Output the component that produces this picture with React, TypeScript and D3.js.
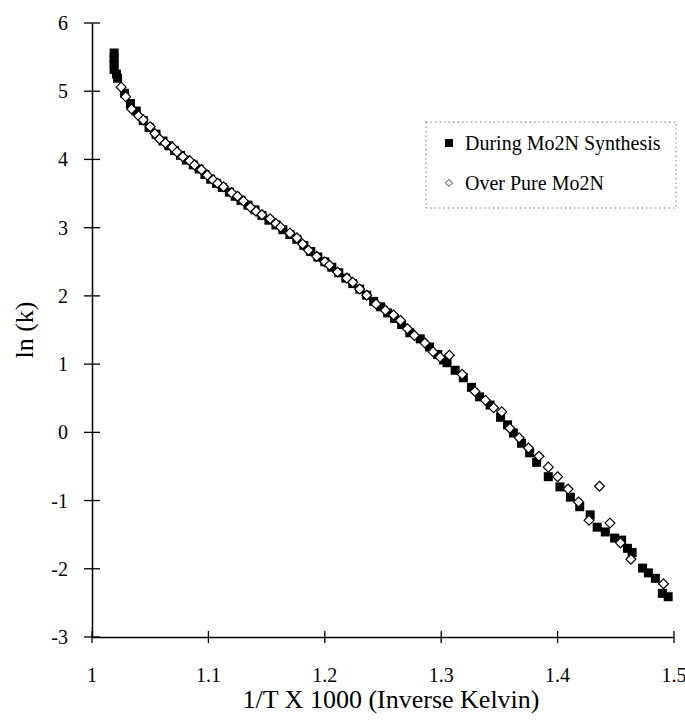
import React, { useEffect, useRef } from "react";
import * as d3 from "d3";

// During Mo2N synthesis (filled squares)
const synthX = [
  1.019, 1.019, 1.019, 1.019, 1.021, 1.022,
  1.028, 1.033, 1.038, 1.044, 1.049, 1.055, 1.061, 1.066, 1.071, 1.076, 1.081, 1.087, 1.092, 1.097,
  1.102, 1.107, 1.112, 1.118, 1.123, 1.128, 1.134, 1.14, 1.146, 1.152, 1.158, 1.164, 1.17, 1.176,
  1.182, 1.188, 1.194, 1.2, 1.206, 1.212, 1.218, 1.224, 1.23, 1.236, 1.242, 1.248, 1.254, 1.26, 1.266,
  1.273, 1.282, 1.29, 1.297, 1.302, 1.305, 1.312, 1.319, 1.326, 1.333, 1.342, 1.351, 1.357,
  1.362, 1.369, 1.376, 1.382, 1.392, 1.402, 1.411, 1.419, 1.428, 1.434, 1.441, 1.449, 1.455, 1.46,
  1.464, 1.473, 1.478, 1.484, 1.49, 1.495,
];
const synthY = [
  5.56, 5.48, 5.4, 5.32, 5.25, 5.19,
  4.97, 4.82, 4.71, 4.57, 4.47, 4.37, 4.27, 4.2, 4.13, 4.06, 3.99, 3.92, 3.86, 3.78,
  3.71, 3.65, 3.59, 3.52, 3.46, 3.4, 3.33, 3.26, 3.18, 3.11, 3.04, 2.97, 2.9, 2.83,
  2.74, 2.65, 2.57, 2.5, 2.42, 2.34, 2.26, 2.18, 2.1, 2.01, 1.92, 1.84, 1.75, 1.67, 1.58,
  1.46, 1.37, 1.25, 1.14, 1.06, 1.02, 0.91, 0.8, 0.66, 0.52, 0.4, 0.22, 0.11,
  -0.01, -0.16, -0.3, -0.44, -0.65, -0.8, -0.95, -1.09, -1.21, -1.39, -1.46, -1.55, -1.58, -1.7,
  -1.76, -1.99, -2.06, -2.14, -2.36, -2.41,
];

// Over pure Mo2N (open diamonds)
const pureX = [
  1.025, 1.029, 1.034, 1.04, 1.044, 1.05, 1.054, 1.058, 1.063, 1.069, 1.073, 1.078, 1.084, 1.088,
  1.094, 1.099, 1.104, 1.108, 1.113, 1.12, 1.125, 1.13, 1.136, 1.141, 1.146, 1.153, 1.158, 1.162,
  1.17, 1.176, 1.181, 1.186, 1.193, 1.2, 1.204, 1.211, 1.219, 1.224, 1.23, 1.236, 1.244, 1.252,
  1.259, 1.265, 1.271, 1.277, 1.286, 1.293, 1.299, 1.307, 1.318, 1.329, 1.338, 1.345, 1.352,
  1.359, 1.367, 1.375, 1.384, 1.392, 1.4, 1.409, 1.418, 1.427, 1.436, 1.445, 1.454, 1.463, 1.491,
];
const pureY = [
  5.06, 4.92, 4.74, 4.64, 4.58, 4.48, 4.38, 4.3, 4.24, 4.18, 4.11, 4.04, 3.98, 3.92,
  3.85, 3.77, 3.7, 3.65, 3.6, 3.51, 3.46, 3.39, 3.3, 3.24, 3.19, 3.13, 3.06, 3.01,
  2.92, 2.85, 2.76, 2.67, 2.58, 2.5, 2.45, 2.35, 2.26, 2.2, 2.1, 2.01, 1.88, 1.79,
  1.72, 1.64, 1.52, 1.42, 1.31, 1.18, 1.1, 1.13, 0.85, 0.6, 0.47, 0.36, 0.3,
  0.06, -0.08, -0.23, -0.35, -0.51, -0.65, -0.83, -1.02, -1.29, -0.79, -1.33, -1.62, -1.86, -2.22,
];

const xTicks = [1, 1.1, 1.2, 1.3, 1.4, 1.5];
const yTicks = [-3, -2, -1, 0, 1, 2, 3, 4, 5, 6];
const seriesNames = ["During Mo2N Synthesis", "Over Pure Mo2N"];

const FONT = "'Liberation Serif', 'Times New Roman', serif";

export default function App() {
  const svgRef = useRef<SVGSVGElement>(null);

  useEffect(() => {
    const width = 685;
    const height = 720;
    const svg = d3.select(svgRef.current);
    svg.selectAll("*").remove();

    const x = d3.scaleLinear().domain([1, 1.5]).range([92, 674]);
    const y = d3.scaleLinear().domain([-3, 6]).range([637, 23]);

    svg.attr("width", width).attr("height", height);

    // axes
    const xAxis = svg.append("g")
      .attr("transform", `translate(0,${y(-3)})`)
      .call(d3.axisBottom(x).tickValues(xTicks).tickSize(0).tickFormat(() => ""));
    xAxis.select(".domain").attr("stroke", "#000").attr("stroke-width", 1.5);

    const yAxis = svg.append("g")
      .attr("transform", `translate(${x(1)},0)`)
      .call(d3.axisLeft(y).tickValues(yTicks).tickSize(0).tickFormat(() => ""));
    yAxis.select(".domain").attr("stroke", "#000").attr("stroke-width", 1.5);

    // crossing tick marks
    svg.append("g").selectAll("line")
      .data(xTicks)
      .join("line")
      .attr("x1", (d) => x(d)).attr("x2", (d) => x(d))
      .attr("y1", y(-3) - 6).attr("y2", y(-3) + 6)
      .attr("stroke", "#000").attr("stroke-width", 1.3);
    svg.append("g").selectAll("line")
      .data(yTicks)
      .join("line")
      .attr("x1", x(1) - 8).attr("x2", x(1) + 8)
      .attr("y1", (d) => y(d)).attr("y2", (d) => y(d))
      .attr("stroke", "#000").attr("stroke-width", 1.3);

    // tick labels
    svg.append("g").selectAll("text")
      .data(xTicks)
      .join("text")
      .attr("x", (d) => x(d)).attr("y", 682)
      .attr("text-anchor", "middle")
      .attr("font-family", FONT).attr("font-size", 20)
      .text((d) => d3.format("")(d));
    svg.append("g").selectAll("text")
      .data(yTicks)
      .join("text")
      .attr("x", 68).attr("y", (d) => y(d) + 7)
      .attr("text-anchor", "end")
      .attr("font-family", FONT).attr("font-size", 20)
      .text((d) => d);

    // axis titles
    svg.append("text")
      .attr("x", 391).attr("y", 708)
      .attr("text-anchor", "middle")
      .attr("font-family", FONT).attr("font-size", 26)
      .text("1/T X 1000 (Inverse Kelvin)");
    svg.append("text")
      .attr("transform", `translate(33,330) rotate(-90)`)
      .attr("text-anchor", "middle")
      .attr("font-family", FONT).attr("font-size", 26)
      .text("ln (k)");

    const synth = synthX.map((v, i) => ({ x: v, y: synthY[i] }));
    const pure = pureX.map((v, i) => ({ x: v, y: pureY[i] }));

    const sq = 9;
    svg.append("g").selectAll("rect")
      .data(synth)
      .join("rect")
      .attr("x", (d) => x(d.x) - sq / 2)
      .attr("y", (d) => y(d.y) - sq / 2)
      .attr("width", sq).attr("height", sq)
      .attr("fill", "#000");

    const diamond = d3.symbol().type(d3.symbolDiamond2).size(62);
    svg.append("g").selectAll("path")
      .data(pure)
      .join("path")
      .attr("transform", (d) => `translate(${x(d.x)},${y(d.y)})`)
      .attr("d", diamond)
      .attr("fill", "#fff")
      .attr("stroke", "#000").attr("stroke-width", 1.2);

    // legend
    const lg = svg.append("g");
    lg.append("rect")
      .attr("x", 426).attr("y", 122)
      .attr("width", 250).attr("height", 86)
      .attr("fill", "none")
      .attr("stroke", "#777").attr("stroke-width", 1)
      .attr("stroke-dasharray", "1.5,3");
    lg.append("rect")
      .attr("x", 449 - 4).attr("y", 143 - 4)
      .attr("width", 8).attr("height", 8)
      .attr("fill", "#000");
    lg.append("path")
      .attr("transform", "translate(449,183)")
      .attr("d", d3.symbol().type(d3.symbolDiamond2).size(32))
      .attr("fill", "#fff").attr("stroke", "#000").attr("stroke-width", 0.8);
    lg.selectAll("text.lbl")
      .data(seriesNames)
      .join("text")
      .attr("class", "lbl")
      .attr("x", 465).attr("y", (d, i) => 150 + i * 40)
      .attr("font-family", FONT).attr("font-size", 20)
      .text((d) => d);
  }, []);

  return (
    <svg ref={svgRef} style={{ position: "absolute", left: 0, top: 0, background: "#fff" }}></svg>
  );
}
